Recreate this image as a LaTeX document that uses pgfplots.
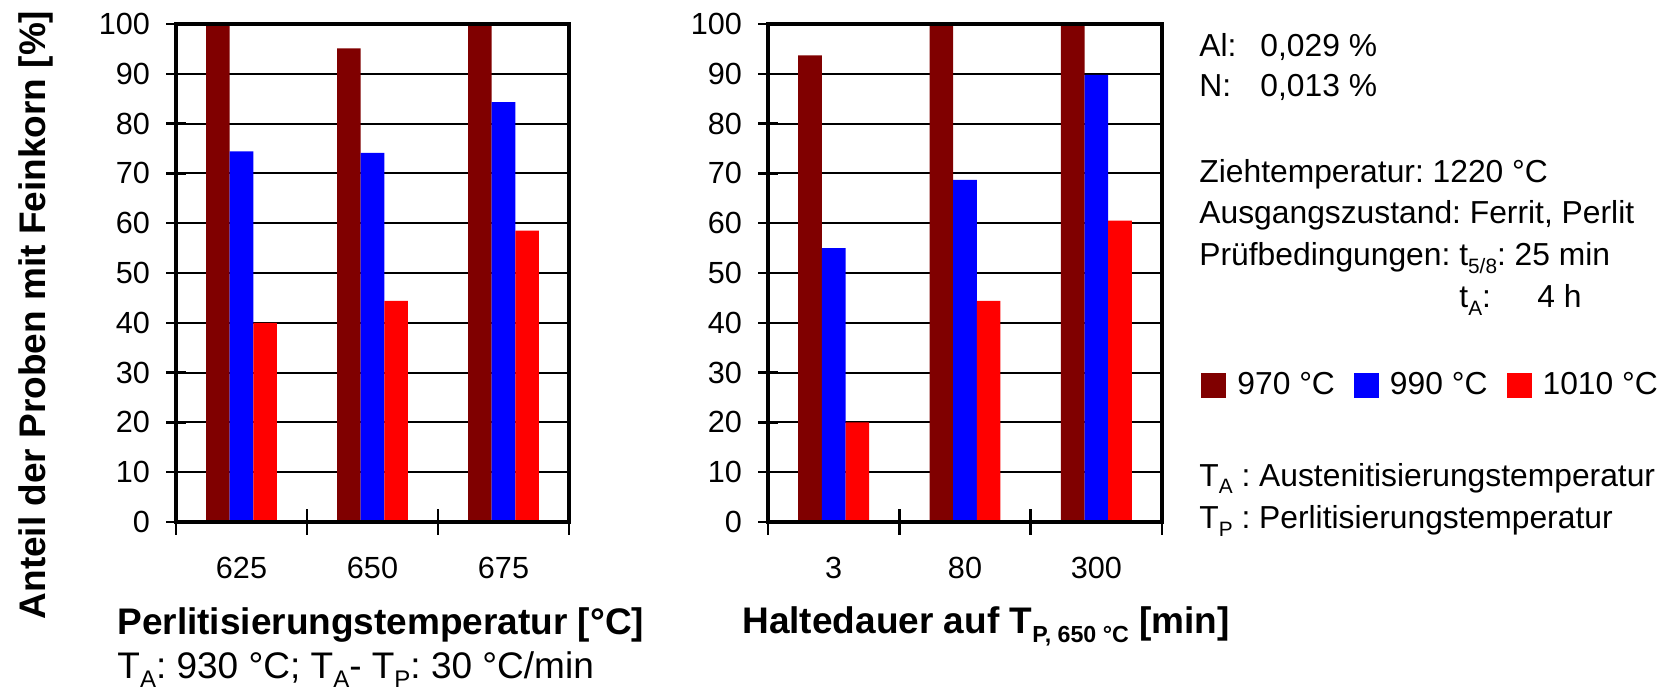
\documentclass[border=0pt]{standalone}
\usepackage{fontspec}
\setmainfont{Liberation Sans}
\usepackage{pgfplots}
\pgfplotsset{compat=1.18}
\frenchspacing
\definecolor{cDark}{RGB}{128,0,0}
\definecolor{cBlue}{RGB}{0,0,255}
\definecolor{cRed}{RGB}{255,0,0}
\newcommand{\sub}[2][10.4]{\raisebox{-0.25em}{\fontsize{#1}{#1}\selectfont #2}}
\pgfplotsset{
  layers/mylayers/.define layer set={
    axis background,axis grid,pre main,main,axis ticks,axis lines,axis tick labels,axis descriptions,axis foreground
  }{
    grid style={/pgfplots/on layer=axis grid},
    tick style={/pgfplots/on layer=axis ticks},
    axis line style={/pgfplots/on layer=axis lines},
    label style={/pgfplots/on layer=axis descriptions},
    legend style={/pgfplots/on layer=axis descriptions},
    title style={/pgfplots/on layer=axis descriptions},
    colorbar style={/pgfplots/on layer=axis descriptions},
    ticklabel style={/pgfplots/on layer=axis tick labels},
    axis background@ style={/pgfplots/on layer=axis background},
    3d box foreground style={/pgfplots/on layer=axis foreground},
  },
  mybar/.style={
    set layers=mylayers,
    scale only axis,
    width=196.5pt, height=249pt,
    ybar, bar width=0.18,
    ymin=0, ymax=100, ytick={0,10,...,100},
    xmin=-0.5, xmax=2.5,
    xtick={0,1,2},
    minor xtick={-0.5,0.5,1.5,2.5},
    tick align=center,
    major tick length=10pt,
    minor tick length=12.5pt,
    major x tick style={draw=none},
    xtick pos=bottom, ytick pos=left,
    ymajorgrids,
    grid style={black, line width=1pt},
    axis line style={line width=2.2pt},
    tick style={black, line width=1.2pt},
    tick label style={font=\fontsize{15.3}{17}\selectfont},
    /pgf/number format/assume math mode=true,
    xticklabel style={yshift=-9pt},
    yticklabel style={xshift=-4.5pt},
    label style={font=\fontsize{18.5}{22}\selectfont\bfseries, inner sep=0pt},
  },
}
\begin{document}
\begin{tikzpicture}
\begin{axis}[mybar, at={(88pt,84.5pt)}, anchor=south west,
  xticklabels={625,650,675},
  xlabel={Perlitisierungstemperatur [°C]},
  xlabel style={at={(axis description cs:-0.150,-0.2249)}, anchor=base west},
  ylabel={Anteil der Proben mit Feinkorn [\%]},
  ylabel style={at={(axis description cs:-0.3308,0.4157)}, anchor=base, rotate=0},
]
\addplot[fill=cDark, draw=none, bar shift=-0.18] coordinates {(0,100) (1,95.1) (2,100)};
\addplot[fill=cBlue, draw=none, bar shift=0] coordinates {(0,74.4) (1,74.1) (2,84.3)};
\addplot[fill=cRed, draw=none, bar shift=0.18] coordinates {(0,40) (1,44.4) (2,58.5)};
\end{axis}
\begin{axis}[mybar, at={(384pt,84.5pt)}, anchor=south west, width=197pt,
  xticklabels={3,80,300},
  xlabel={Haltedauer auf T\sub[11.6]{P, 650 °C} [min]},
  xlabel style={at={(axis description cs:-0.066,-0.2229)}, anchor=base west},
  legend columns=3,
  legend style={at={(1.099,0.274)}, anchor=west, draw=none, fill=none, inner sep=0pt,
    font=\fontsize{15.9}{18}\selectfont, nodes={inner sep=0pt},
    /tikz/every odd column/.append style={column sep=5.5pt},
    /tikz/every even column/.append style={column sep=9.5pt}},
  legend image code/.code={\fill[#1] (0pt,-6.5pt) rectangle (12.5pt,6pt);},
]
\addplot[fill=cDark, draw=none, bar shift=-0.18] coordinates {(0,93.7) (1,100) (2,100)};
\addplot[fill=cBlue, draw=none, bar shift=0] coordinates {(0,55) (1,68.7) (2,89.8)};
\addplot[fill=cRed, draw=none, bar shift=0.18] coordinates {(0,20) (1,44.4) (2,60.5)};
\legend{970 °C, 990 °C, 1010 °C}
\end{axis}
\node[anchor=base west, inner sep=0pt, font=\fontsize{18.5}{22}\selectfont] at (58.5pt,6.5pt)
  {T\sub[12]{A}: 930 °C; T\sub[12]{A}- T\sub[12]{P}: 30 °C/min};
\begin{scope}[every node/.style={anchor=base west, inner sep=0pt, font=\fontsize{15.9}{18}\selectfont}]
\node at (599.5pt,317.3pt) {Al:};
\node at (630pt,317.3pt) {0,029 \%};
\node at (599.5pt,297pt) {N:};
\node at (630pt,297pt) {0,013 \%};
\node at (599.5pt,254pt) {Ziehtemperatur: 1220 °C};
\node at (599.5pt,233.5pt) {Ausgangszustand: Ferrit, Perlit};
\node at (599.5pt,212.5pt) {Prüfbedingungen: t\sub{5/8}: 25 min};
\node at (729.5pt,191.5pt) {t\sub{A}:};
\node at (768.5pt,191.5pt) {4 h};
\node at (599.5pt,102.5pt) {T\sub{A} : Austenitisierungstemperatur};
\node at (599.5pt,81.2pt) {T\sub{P} : Perlitisierungstemperatur};
\end{scope}
\pgfresetboundingbox
\useasboundingbox (0,0) rectangle (831.5pt,345.5pt);
\end{tikzpicture}
\end{document}
